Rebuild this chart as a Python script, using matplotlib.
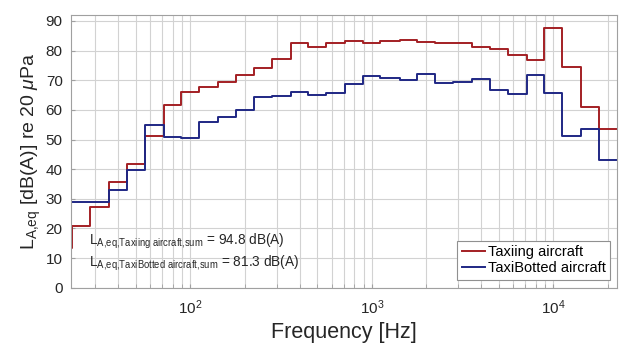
import numpy as np
import matplotlib
matplotlib.use("Agg")
import matplotlib.pyplot as plt

plt.rcParams.update({
    "font.family": ["Liberation Sans", "DejaVu Sans"],
    "mathtext.fontset": "custom",
    "mathtext.rm": "Liberation Sans",
    "mathtext.it": "Liberation Sans:italic",
    "mathtext.default": "regular",
})

# third-octave band centre frequencies [Hz] (20 Hz band sits just left of the axis)
band_centres = [20, 25, 31.5, 40, 50, 63, 80, 100, 125, 160, 200, 250, 315, 400,
                500, 630, 800, 1000, 1250, 1600, 2000, 2500, 3150, 4000, 5000,
                6300, 8000, 10000, 12500, 16000, 20000]

taxiing = [13.4, 20.8, 27.3, 35.6, 41.6, 51.1, 61.6, 66.1, 67.7, 69.4, 71.8,
           74.0, 77.1, 82.4, 81.2, 82.6, 83.1, 82.6, 83.3, 83.6, 82.8,
           82.7, 82.5, 81.2, 80.4, 78.4, 76.8, 87.6, 74.5, 61.0, 53.4]

taxibot = [28.8, 28.8, 29.0, 32.9, 39.7, 54.8, 50.9, 50.4, 55.8, 57.6, 59.9,
           64.4, 64.6, 65.9, 65.0, 65.7, 68.7, 71.4, 70.7, 70.1, 72.1,
           68.9, 69.4, 70.3, 66.6, 65.3, 71.7, 65.7, 51.2, 53.6, 43.0]

labels = ["Taxiing aircraft", "TaxiBotted aircraft"]
sum_names = ["Taxiing aircraft", "TaxiBotted aircraft"]
sum_levels = [94.8, 81.3]

RED = "#a31f24"
BLUE = "#1f2784"
TXT = "#262626"

fc = np.array(band_centres, dtype=float)
edges = np.append(fc / 10**0.05, fc[-1] * 10**0.05)

fig = plt.figure(figsize=(6.2, 3.45), dpi=100)
ax = fig.add_axes([0.1145, 0.166, 0.8805, 0.7905])

for vals, col, lab in [(taxiing, RED, labels[0]), (taxibot, BLUE, labels[1])]:
    ax.step(edges, np.append(vals, vals[-1]), where="post",
            color=col, lw=1.4, label=lab)

ax.set_xscale("log")
ax.set_xlim(22.0, 10**4.35)
ax.set_ylim(0, 92)
ax.set_yticks(np.arange(0, 91, 10))
ax.set_xticks([1e2, 1e3, 1e4])

ax.grid(True, which="major", color="#d2d2d2", lw=0.8)
ax.grid(True, which="minor", axis="x", color="#d2d2d2", lw=0.8)
ax.set_axisbelow(True)

for s in ax.spines.values():
    s.set_color("#a0a0a0")
    s.set_linewidth(0.8)
ax.tick_params(which="both", direction="in", color="#a0a0a0", length=3,
               labelsize=11, labelcolor=TXT)
ax.tick_params(axis="x", which="major", pad=8)
ax.tick_params(axis="y", pad=6)

ax.set_xlabel("Frequency [Hz]", fontsize=15.5, color=TXT, labelpad=3)
ax.set_ylabel(r"L$_{A{,}eq}$ [dB(A)] re 20 $\mathit{\mu}$Pa", fontsize=14,
              color=TXT, labelpad=2)

for yy, name, lvl in zip([0.157, 0.076], sum_names, sum_levels):
    sub = name.replace(" ", r"\ ")
    ax.text(0.033, yy, r"L$_{A{,}eq{,}%s{,}sum}$ = %.1f dB(A)" % (sub, lvl),
            transform=ax.transAxes, fontsize=9.8, color=TXT, va="baseline")

leg = ax.legend(loc="lower right", bbox_to_anchor=(0.988, 0.03), borderaxespad=0,
                fontsize=10.5, fancybox=False, framealpha=1, edgecolor="#909090",
                handlelength=1.6, handletextpad=0.2, labelspacing=0.15,
                borderpad=0.3)
leg.get_frame().set_linewidth(0.8)

fig.savefig("out.png", dpi=100)
